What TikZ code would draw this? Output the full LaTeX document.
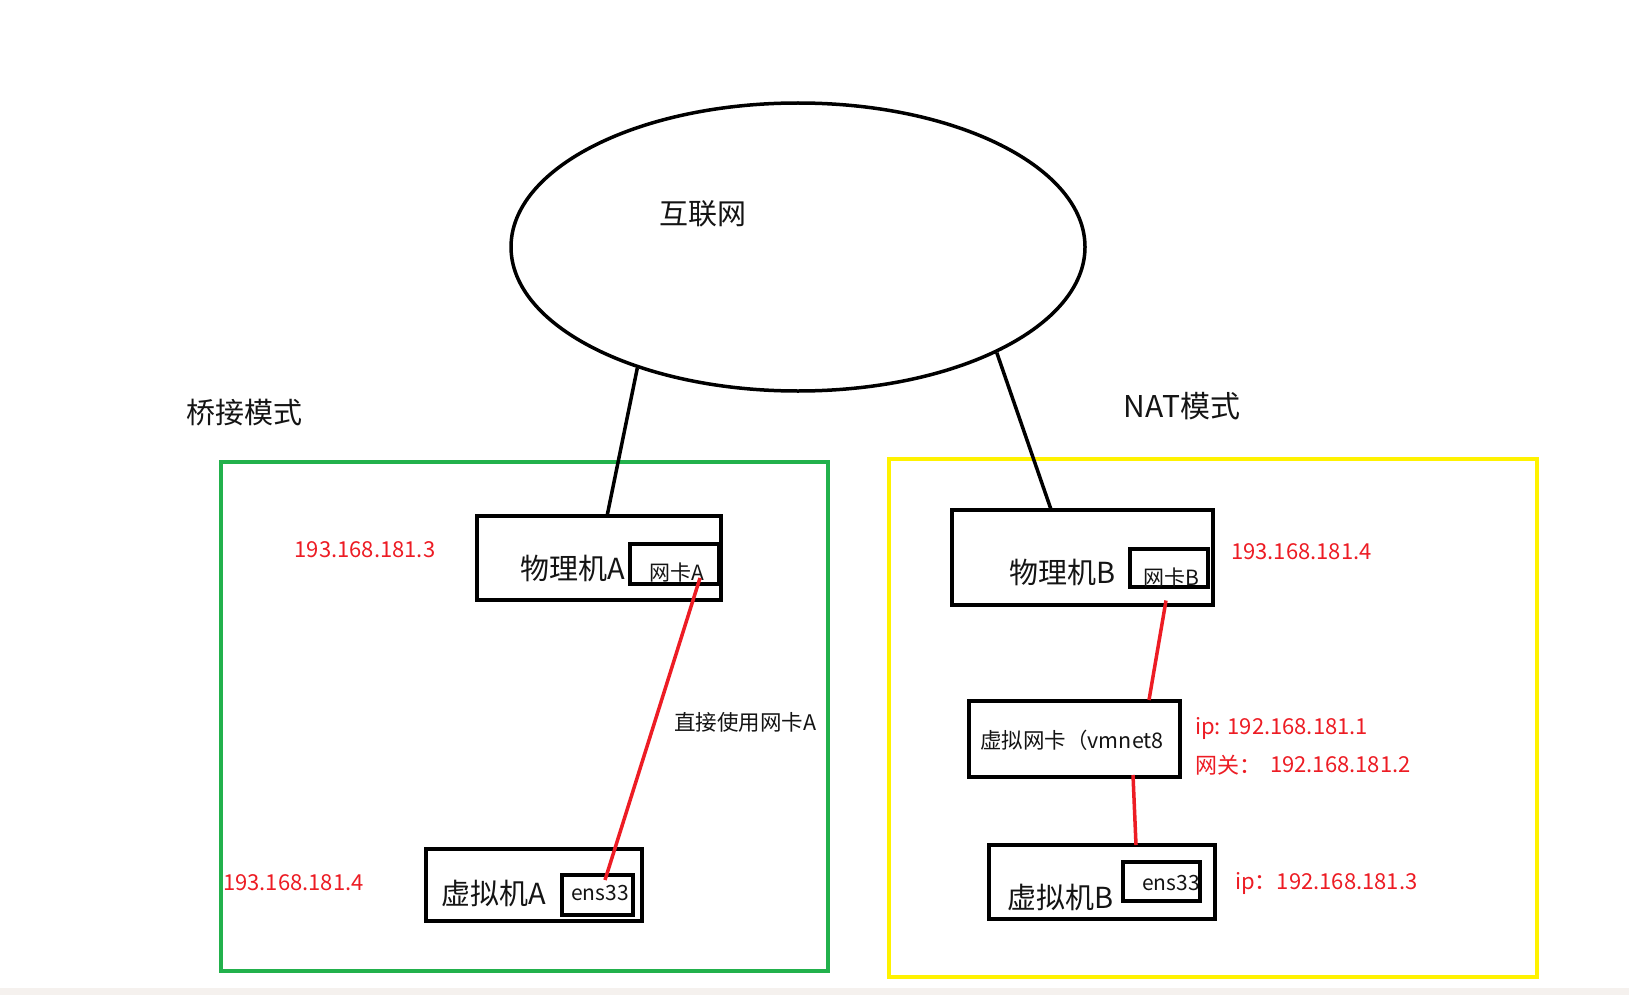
\documentclass[tikz,border=0pt]{standalone}
\usepackage{fontspec}
\setmainfont{Noto Sans CJK SC}
\usetikzlibrary{shapes.geometric,calc}
\definecolor{pred}{RGB}{237,28,36}
\definecolor{pgreen}{RGB}{34,177,76}
\definecolor{pyellow}{RGB}{255,242,0}
\definecolor{bandgray}{RGB}{245,241,238}
\definecolor{ink}{RGB}{20,20,20}
\begin{document}
\begin{tikzpicture}[x=1pt,y=-1pt,
  box/.style={draw=black,line width=4pt,inner sep=0pt,outer sep=0pt},
  blk/.style={line width=3.5pt,black},
  redline/.style={line width=3.5pt,pred},
  txt/.style={inner sep=0pt,text=ink,font=\fontsize{#1}{#1}\selectfont},
  rtxt/.style={inner sep=0pt,text=pred,font=\fontsize{#1}{#1}\selectfont},
  frame/.style={line width=4.5pt}]
\useasboundingbox (0,0) rectangle (1629,995);
\fill[white] (0,0) rectangle (1629,995);
\fill[bandgray] (0,988) rectangle (1629,995);

% internet
\node[draw,ellipse,line width=3.5pt,inner sep=0pt,minimum width=574pt,minimum height=288pt] (inet) at (798,247) {};
\node[txt=29] (inettxt) at (703,214) {互联网};

% mode labels and frames
\node[txt=29] (bridge) at (244,413) {桥接模式};
\node[txt=30] (nat) at (1182,406) {NAT模式};
\draw[frame,pgreen] (221,462) rectangle (828,971);
\draw[frame,pyellow] (889,459) rectangle (1537,977);

% left side
\node[box,minimum width=244pt,minimum height=84pt] (phyA) at (599,558) {};
\node[box,minimum width=89pt,minimum height=40pt] (nicA) at (674.5,564) {};
\node[txt=29] (phyAtxt) at (573,568) {物理机A};
\node[txt=21] (nicAtxt) at (677,573) {网卡A};
\node[box,minimum width=216pt,minimum height=72pt] (vmA) at (534,885) {};
\node[box,minimum width=71pt,minimum height=40pt] (ensA) at (597.5,895) {};
\node[txt=29] (vmAtxt) at (494,893) {虚拟机A};
\node[txt=21] (ensAtxt) at (600,893) {ens33};
\node[rtxt=22] (ipA1) at (365,550) {193.168.181.3};
\node[rtxt=22,anchor=west] (ipA2) at (223,883) {193.168.181.4};
\node[txt=21.5,anchor=west] (direct) at (674,722) {直接使用网卡A};

% right side
\node[box,minimum width=261pt,minimum height=95pt] (phyB) at (1082.5,557.5) {};
\node[box,minimum width=78pt,minimum height=38pt] (nicB) at (1169,568) {};
\node[txt=29] (phyBtxt) at (1063,572) {物理机B};
\node[txt=21] (nicBtxt) at (1171,578) {网卡B};
\node[rtxt=22,anchor=west] (ipB1) at (1231,552) {193.168.181.4};
\node[box,minimum width=211pt,minimum height=76pt] (vmnet) at (1074.5,739) {};
\node[txt=21.5] (vmnettxt) at (1072,740) {虚拟网卡（vmnet8};
\node[rtxt=22,anchor=west] (ipV1) at (1195,728) {ip: 192.168.181.1};
\node[rtxt=22,anchor=west] (gwlbl) at (1195,765) {网关：};
\node[rtxt=22,anchor=west] (gwip) at (1270,765) {192.168.181.2};
\node[box,minimum width=226pt,minimum height=74pt] (vmB) at (1102,882) {};
\begin{scope}
\clip (1123,862) rectangle (1200,901);
\node[txt=21,anchor=west] (ensBtxt) at (1142,883) {ens33};
\end{scope}
\node[box,minimum width=77pt,minimum height=39pt] (ensB) at (1161.5,881.5) {};
\node[txt=29] (vmBtxt) at (1061,897) {虚拟机B};
\node[rtxt=22,anchor=west] (ipB2) at (1235,883) {ip：192.168.181.3};

% connectors
\draw[blk] (inet.217) -- ($(phyA.north west)!0.533!(phyA.north east)$);
\draw[blk] (inet.332) -- ($(phyB.north west)!0.38!(phyB.north east)$);
\draw[redline] ([shift={(25.5,14)}]nicA.center) -- ([shift={(7.5,-15)}]ensA.center);
\draw[redline] ([shift={(83.5,43)}]phyB.center) -- ([shift={(74.5,-39)}]vmnet.center);
\draw[redline] ([shift={(58.5,36)}]vmnet.center) -- ([shift={(34,-37)}]vmB.center);
\end{tikzpicture}
\end{document}
